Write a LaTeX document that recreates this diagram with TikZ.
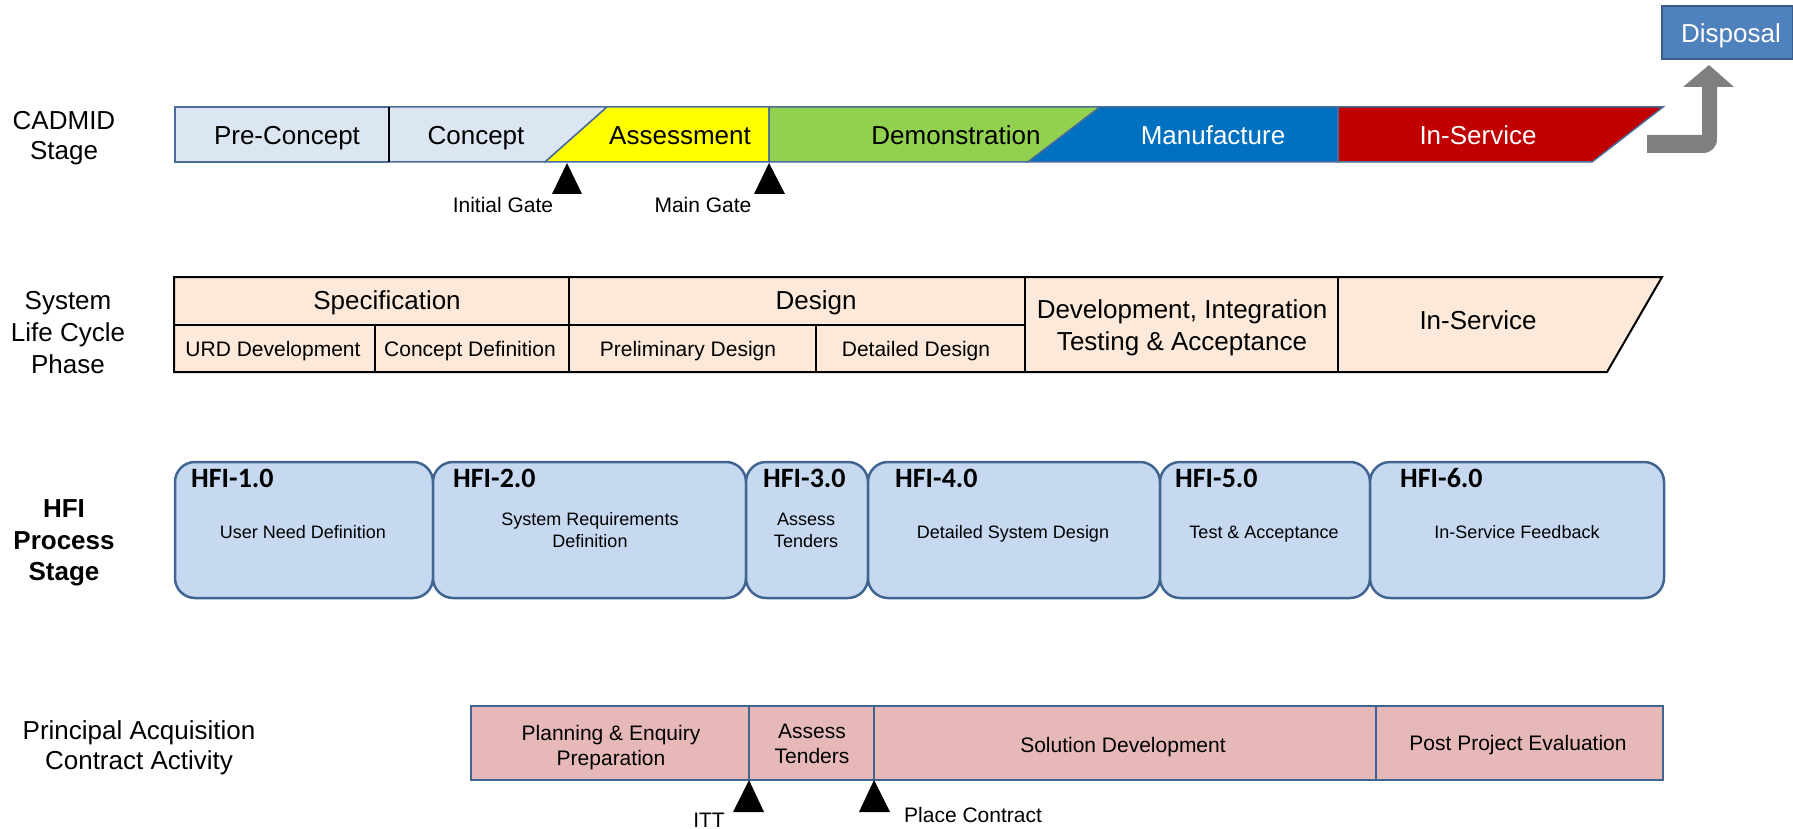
\documentclass[tikz,border=0pt]{standalone}
\usepackage{fontspec}
\setmainfont{Liberation Sans}
\newfontfamily\hfifont{Carlito}
\definecolor{cadblue}{HTML}{DCE6F2}
\definecolor{edgeblue}{HTML}{4A6C9B}
\definecolor{assessY}{HTML}{FFFF00}
\definecolor{demoG}{HTML}{92D050}
\definecolor{manuB}{HTML}{0070C0}
\definecolor{servR}{HTML}{C00000}
\definecolor{dispB}{HTML}{4F81BD}
\definecolor{dispE}{HTML}{385D8A}
\definecolor{arrowG}{HTML}{7F7F7F}
\definecolor{slcF}{HTML}{FDE9D9}
\definecolor{hfiF}{HTML}{C6D9F1}
\definecolor{hfiE}{HTML}{3F6590}
\definecolor{pacaF}{HTML}{E6B9B8}
\begin{document}
\begin{tikzpicture}[x=1pt,y=-1pt,
  lbl/.style={anchor=base, inner sep=0pt, font=\fontsize{26}{30}\selectfont},
  blbl/.style={anchor=base, inner sep=0pt, font=\bfseries\fontsize{26}{30}\selectfont},
  sm/.style={anchor=base, inner sep=0pt, font=\fontsize{21}{25}\selectfont},
  xs/.style={anchor=base, inner sep=0pt, font=\fontsize{18}{22}\selectfont},
  hfi/.style={anchor=base west, inner sep=0pt, font=\hfifont\bfseries\fontsize{28}{32}\selectfont},
  cadseg/.style={draw=edgeblue, line width=1.5pt, line join=miter},
  slcline/.style={draw=black, line width=1.5pt},
  hfibox/.style={draw=hfiE, fill=hfiF, line width=2.5pt, rounded corners=20pt},
  pacabox/.style={draw=hfiE, fill=pacaF, line width=2pt},
  gatemark/.style={fill=black}]
\useasboundingbox (0,0) rectangle (1793,829);

% ---------------- CADMID row ----------------
\fill[cadblue] (175,107) rectangle (389,162);
\draw[cadseg, fill=cadblue] (389,107) -- (607,107) -- (545,162) -- (389,162);
\draw[cadseg, fill=assessY] (607,107) -- (769,107) -- (769,162) -- (545,162) -- cycle;
\draw[cadseg, fill=demoG] (769,107) -- (1100,107) -- (1028,162) -- (769,162) -- cycle;
\draw[cadseg, fill=manuB] (1100,107) -- (1338,107) -- (1338,162) -- (1028,162) -- cycle;
\draw[cadseg, fill=servR] (1338,107) -- (1663,107) -- (1592,162) -- (1338,162) -- cycle;
\draw[cadseg] (389,107) -- (175,107) -- (175,162) -- (389,162);
\draw[line width=1.2pt] (389,107) -- (389,162);

\node[lbl] (precon) at (287,145) {Pre-Concept};
\node[lbl] (concept) at (476,145) {Concept};
\node[lbl] (assess) at (680,145) {Assessment};
\node[lbl] (demo) at (956,145) {Demonstration};
\node[lbl, text=white] (manuf) at (1213,145) {Manufacture};
\node[lbl, text=white] (inserv) at (1478,145) {In-Service};

\coordinate (ig) at (567,163);
\coordinate (mg) at (769,163);
\fill[gatemark] (ig) -- (552,194) -- (582,194) -- cycle;
\fill[gatemark] (mg) -- (754,194) -- (785,194) -- cycle;
\node[sm] (igtext) at (503,213) {Initial Gate};
\node[sm] (mgtext) at (703,213) {Main Gate};

\node[lbl] (cadA) at (64,130) {CADMID};
\node[lbl] (cadB) at (64,160) {Stage};

% Disposal and bent arrow
\draw[draw=dispE, fill=dispB, line width=1.5pt] (1662,6) rectangle (1793,59);
\node[lbl, text=white] (disposal) at (1731,43) {Disposal};
\fill[arrowG] (1647,135) -- (1702,135) -- (1702,87) -- (1683,87) -- (1709,65)
  -- (1734,87) -- (1717,87) -- (1717,139) .. controls (1717,147) and (1711,153) .. (1703,153)
  -- (1647,153) -- cycle;

% ---------------- System Life Cycle row ----------------
\draw[fill=slcF, line width=2pt, line join=miter] (174,277) -- (1662,277) -- (1607,372) -- (174,372) -- cycle;
\draw[slcline] (174,325) -- (1025,325);
\draw[slcline] (569,277) -- (569,372);
\draw[slcline] (1025,277) -- (1025,372);
\draw[slcline] (1338,277) -- (1338,372);
\draw[slcline] (375,325) -- (375,372);
\draw[slcline] (816,325) -- (816,372);

\node[lbl] (spec) at (387,309) {Specification};
\node[lbl] (design) at (816,309) {Design};
\node[sm] (urd) at (273,356) {URD Development};
\node[sm] (cdef) at (470,356) {Concept Definition};
\node[sm] (prel) at (688,356) {Preliminary Design};
\node[sm] (detd) at (916,356) {Detailed Design};
\node[lbl] (ditA) at (1182,318) {Development, Integration};
\node[lbl] (ditB) at (1182,350) {Testing \& Acceptance};
\node[lbl] (slcserv) at (1478,329) {In-Service};

\node[lbl] (slcA) at (68,309) {System};
\node[lbl] (slcB) at (68,341) {Life Cycle};
\node[lbl] (slcC) at (68,373) {Phase};

% ---------------- HFI Process row ----------------
\draw[hfibox] (175,462) rectangle (433,598);
\draw[hfibox] (433,462) rectangle (746,598);
\draw[hfibox] (746,462) rectangle (868,598);
\draw[hfibox] (868,462) rectangle (1160,598);
\draw[hfibox] (1160,462) rectangle (1370,598);
\draw[hfibox] (1370,462) rectangle (1664,598);

\node[hfi] (h1) at (191,487) {HFI-1.0};
\node[hfi] (h2) at (453,487) {HFI-2.0};
\node[hfi] (h3) at (763,487) {HFI-3.0};
\node[hfi] (h4) at (895,487) {HFI-4.0};
\node[hfi] (h5) at (1175,487) {HFI-5.0};
\node[hfi] (h6) at (1400,487) {HFI-6.0};

\node[xs] (d1) at (303,538) {User Need Definition};
\node[xs] (d2a) at (590,525) {System Requirements};
\node[xs] (d2b) at (590,547) {Definition};
\node[xs] (d3a) at (806,525) {Assess};
\node[xs] (d3b) at (806,547) {Tenders};
\node[xs] (d4) at (1013,538) {Detailed System Design};
\node[xs] (d5) at (1264,538) {Test \& Acceptance};
\node[xs] (d6) at (1517,538) {In-Service Feedback};

\node[blbl] (hfiA) at (64,517) {HFI};
\node[blbl] (hfiB) at (64,549) {Process};
\node[blbl] (hfiC) at (64,580) {Stage};

% ---------------- Principal Acquisition row ----------------
\draw[pacabox] (471,706) rectangle (749,780);
\draw[pacabox] (749,706) rectangle (874,780);
\draw[pacabox] (874,706) rectangle (1376,780);
\draw[pacabox] (1376,706) rectangle (1663,780);

\node[sm] (p1a) at (611,740) {Planning \& Enquiry};
\node[sm] (p1b) at (611,765) {Preparation};
\node[sm] (p2a) at (812,738) {Assess};
\node[sm] (p2b) at (812,763) {Tenders};
\node[sm] (p3) at (1123,752) {Solution Development};
\node[sm] (p4) at (1518,750) {Post Project Evaluation};

\coordinate (itt) at (749,780);
\coordinate (pc) at (874,780);
\fill[gatemark] (itt) -- (733,812) -- (764,812) -- cycle;
\fill[gatemark] (pc) -- (859,812) -- (890,812) -- cycle;
\node[sm] (itttext) at (709,827) {ITT};
\node[sm, anchor=base west] (pctext) at (904,822) {Place Contract};

\node[lbl] (pacaA) at (139,739) {Principal Acquisition};
\node[lbl] (pacaB) at (139,769) {Contract Activity};
\end{tikzpicture}
\end{document}
